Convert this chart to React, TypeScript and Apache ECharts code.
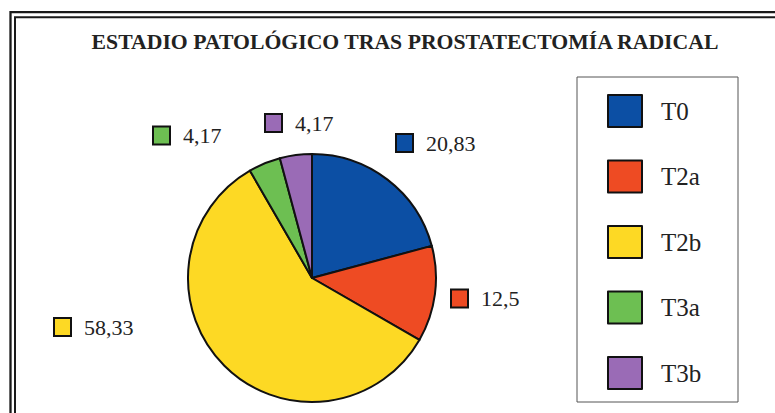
import React, { useEffect, useRef } from "react";
import * as echarts from "echarts";

const categories = ["T0", "T2a", "T2b", "T3a", "T3b"];
const values = [20.83, 12.5, 58.33, 4.17, 4.17];
const colors = ["#0c4fa4", "#ee4b23", "#fdd924", "#6dbf52", "#9a6bb6"];
const titleText = "ESTADIO PATOLÓGICO TRAS PROSTATECTOMÍA RADICAL";

// label anchor positions (left edge of swatch, vertical middle)
const labelPos: [number, number][] = [
  [397, 143],
  [452, 298.5],
  [55, 327],
  [154, 135.5],
  [266, 123],
];

const SERIF = "'Liberation Serif', 'Times New Roman', serif";

export default function App() {
  const ref = useRef<HTMLDivElement>(null);
  useEffect(() => {
    if (!ref.current) return;
    const chart = echarts.init(ref.current, undefined, { renderer: "svg" });
    const rich: Record<string, any> = {
      v: {
        fontSize: 22,
        fontFamily: SERIF,
        color: "#222",
        padding: [0, 0, 0, 14],
      },
    };
    colors.forEach((c, i) => {
      rich["b" + i] = {
        width: 15,
        height: 16,
        backgroundColor: c,
        borderColor: "#111",
        borderWidth: 2,
      };
    });
    chart.setOption({
      animation: false,
      backgroundColor: "#ffffff",
      color: colors,
      graphic: [
        {
          type: "rect",
          shape: { x: 10.5, y: 12.2, width: 900, height: 600 },
          style: { fill: "none", stroke: "#1a1a1a", lineWidth: 2.3 },
        },
        {
          type: "rect",
          shape: { x: 15, y: 17.2, width: 900, height: 600 },
          style: { fill: "none", stroke: "#1a1a1a", lineWidth: 2 },
        },
        {
          type: "rect",
          shape: { x: 577, y: 77, width: 161, height: 325 },
          style: { fill: "none", stroke: "#555", lineWidth: 1 },
        },
        {
          type: "text",
          x: 405,
          y: 42,
          scaleX: 1.035,
          style: {
            text: titleText,
            fontSize: 21,
            fontWeight: "bold",
            fontFamily: SERIF,
            fill: "#222",
            align: "center",
            verticalAlign: "middle",
          },
        },
      ],
      legend: {
        orient: "vertical",
        left: 607,
        top: 94,
        padding: 0,
        itemWidth: 34,
        itemHeight: 32,
        itemGap: 31.5,
        icon: "rect",
        data: categories,
        textStyle: {
          fontSize: 25,
          fontFamily: SERIF,
          color: "#222",
          padding: [0, 0, 0, 14],
        },
      },
      series: [
        {
          type: "pie",
          center: [312, 278],
          radius: 124,
          startAngle: 90,
          clockwise: true,
          itemStyle: { borderColor: "#111", borderWidth: 2 },
          emphasis: { disabled: true },
          labelLine: { show: false },
          label: {
            show: true,
            position: "outside",
            formatter: (p: any) =>
              `{b${p.dataIndex}|}{v|${String(p.value).replace(".", ",")}}`,
            rich,
          },
          labelLayout: (params: any) => ({
            x: labelPos[params.dataIndex][0],
            y: labelPos[params.dataIndex][1],
            align: "left",
            verticalAlign: "middle",
          }),
          data: categories.map((name, i) => ({ name, value: values[i] })),
        },
      ],
    });
    return () => chart.dispose();
  }, []);
  return (
    <div
      ref={ref}
      style={{ position: "fixed", left: 0, top: 0, width: 775, height: 413, background: "#fff" }}
    />
  );
}
